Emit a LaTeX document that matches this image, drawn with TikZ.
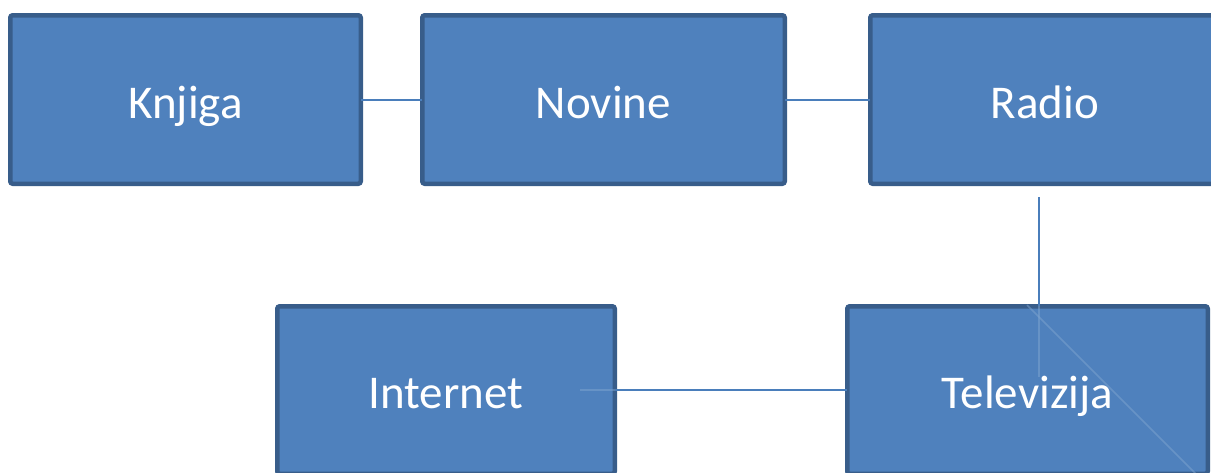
\documentclass[tikz,border=0pt]{standalone}
\usepackage{fontspec}
\setmainfont{Carlito}
\definecolor{boxfill}{HTML}{4F81BD}
\definecolor{boxline}{HTML}{385D8A}
\definecolor{conn}{HTML}{4A7EBB}
\begin{document}
\begin{tikzpicture}[x=1pt,y=-1pt,
  box/.style={draw=boxline,fill=boxfill,line width=4.5pt,rounded corners=2.5pt,
    inner sep=0pt,outer sep=0pt,text=white,text height=40pt,text depth=3pt,
    font=\fontsize{47}{50}\selectfont},
  link/.style={draw=conn,line width=2pt},
  faint/.style={draw=conn!70!white,line width=1.6pt,opacity=0.5}]
\useasboundingbox (0,0) rectangle (1211,472);
\clip (0,0) rectangle (1211,472);
% connector end points
\coordinate (rtop) at (1039,197);
\coordinate (rbot) at (1039,377);
\coordinate (inet) at (580,390);
\coordinate (d1) at (1027,305);
\coordinate (d2) at (1211,489);
% boxes
\node[box,minimum width=350.5pt,minimum height=168.5pt] (knjiga) at (185.5,99.5) {Knjiga};
\node[box,minimum width=362.5pt,minimum height=168.5pt] (novine) at (603.5,99.5) {Novine};
\node[box,minimum width=349.5pt,minimum height=168.5pt] (radio) at (1045,99.5) {Radio};
\node[box,minimum width=337.5pt,minimum height=167.5pt] (internet) at (446,390) {Internet};
\node[box,minimum width=360.5pt,minimum height=167.5pt] (tv) at (1027.5,390) {Televizija};
% connectors
\draw[link] (knjiga.east) -- (novine.west);
\draw[link] (novine.west -| novine.east) -- (radio.west);
\draw[link] (rtop) -- (rtop |- tv.north);
\draw[link] (inet -| internet.east) -- (tv.west);
% faint parts inside boxes
\draw[faint] (rtop |- tv.north) -- (rbot);
\draw[faint] (inet) -- (inet -| internet.east);
\draw[faint] (d1) -- (d2);
\end{tikzpicture}
\end{document}
